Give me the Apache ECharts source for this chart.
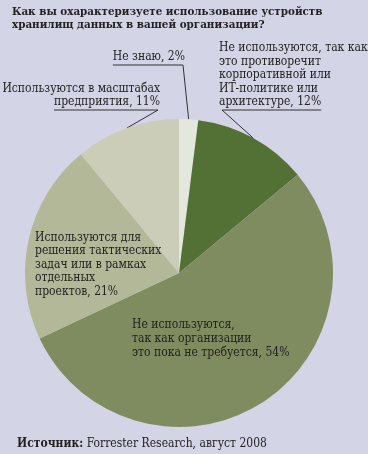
<!DOCTYPE html>
<html><head><meta charset="utf-8">
<script src="https://cdn.jsdelivr.net/npm/echarts@6/dist/echarts.min.js"></script>
<style>html,body{margin:0;padding:0;background:#d4d4e7}#c{width:368px;height:454px}</style>
</head><body><div id="c"></div>
<script>
const titleText = 'Как вы охарактеризуете использование устройств\nхранилищ данных в вашей организации?';
const sourceBold = 'Источник:';
const sourceText = ' Forrester Research, август 2008';
const categories = [
  'Не знаю',
  'Не используются, так как\nэто противоречит\nкорпоративной или\nИТ-политике или\nархитектуре',
  'Не используются,\nтак как организации\nэто пока не требуется',
  'Используются для\nрешения тактических\nзадач или в рамках\nотдельных\nпроектов',
  'Используются в масштабах\nпредприятия'
];
const values = [2, 12, 54, 21, 11];
const colors = ['#e3e7dc', '#537135', '#7f8c5f', '#b3b899', '#cbcdb9'];

const FONT = '"DejaVu Serif Condensed", "DejaVu Serif", serif';
const FS = 12;
const LH = 13.5;
// label layout (positions only)
const labelPlace = [
  {x: 185, y: 64, align: 'right', underline: 'right'},
  {x: 219, y: 109, align: 'left', underline: 'left'},
  {x: 132, y: 318, align: 'left', lh: 14},
  {x: 35, y: 231, align: 'left'},
  {x: 160, y: 109, align: 'right', underline: 'right'}
];
const inside = [false, false, true, true, false];

const mctx = document.createElement('canvas').getContext('2d');
mctx.font = FS + 'px ' + FONT;
function lastLineWidth(i) {
  const txt = categories[i] + ', ' + values[i] + '%';
  const lines = txt.split('\n');
  return mctx.measureText(lines[lines.length - 1]).width;
}

const chart = echarts.init(document.getElementById('c'));
chart.setOption({
  backgroundColor: '#d4d4e7',
  title: [{
    text: titleText, left: 12, top: 5, padding: 0,
    textStyle: {fontFamily: FONT, fontSize: 11.5, fontWeight: 'bold', color: '#222', lineHeight: 13.5}
  }, {
    text: '{b|' + sourceBold + '}{n|' + sourceText + '}', left: 17, top: 438, padding: 0,
    textStyle: {rich: {
      b: {fontFamily: FONT, fontSize: 12, fontWeight: 'bold', color: '#222'},
      n: {fontFamily: FONT, fontSize: 12, fontWeight: 'normal', color: '#222'}
    }}
  }],
  series: [{
    type: 'pie',
    center: [179, 273],
    radius: 154,
    startAngle: 90,
    clockwise: true,
    avoidLabelOverlap: false,
    animation: false,
    label: {
      show: true, position: 'outside', formatter: '{b}, {c}%',
      fontFamily: FONT, fontSize: FS, lineHeight: LH, color: '#222'
    },
    labelLine: {show: true, length: 10, length2: 10, lineStyle: {color: '#333', width: 1}},
    labelLayout: function (params) {
      const i = params.dataIndex;
      const p = labelPlace[i];
      const res = {x: p.x, y: p.y, align: p.align, verticalAlign: inside[i] ? 'top' : 'bottom'};
      if (!inside[i] && params.labelLinePoints) {
        const w = lastLineWidth(i);
        const uy = p.y + 1;
        const p0 = params.labelLinePoints[0];
        if (p.underline === 'right') {
          res.labelLinePoints = [p0, [p.x - 2, uy], [p.x - w, uy]];
        } else {
          res.labelLinePoints = [p0, [p.x + 3, uy], [p.x + w, uy]];
        }
      }
      return res;
    },
    data: categories.map((c, i) => ({
      name: c, value: values[i],
      itemStyle: {color: colors[i]},
      label: inside[i] ? {position: 'inside', lineHeight: labelPlace[i].lh || LH} : undefined,
      labelLine: inside[i] ? {show: false} : undefined
    })),
    emphasis: {disabled: true}
  }]
});
</script></body></html>
